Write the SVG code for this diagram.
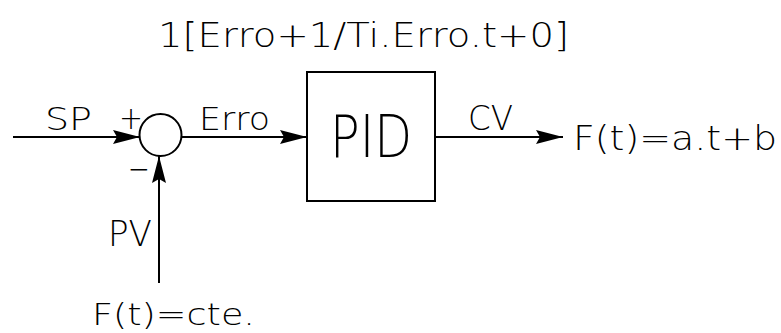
<svg xmlns="http://www.w3.org/2000/svg" width="781" height="333" viewBox="0 0 781 333">
<style>
text{font-family:"DejaVu Sans","Liberation Sans",Arial,sans-serif;font-weight:200;fill:#000;}
.ln{stroke:#000;stroke-width:2;fill:none;}
</style>
<defs>
<marker id="ah" markerUnits="userSpaceOnUse" markerWidth="28" markerHeight="16" refX="27" refY="8" orient="auto">
<path d="M0,1 L27,8 L0,15 L4,8 Z" fill="#000"/>
</marker>
</defs>
<rect width="781" height="333" fill="#fff"/>
<g id="connectors">
<line class="ln" x1="13" y1="137" x2="140" y2="137" marker-end="url(#ah)"/>
<line class="ln" x1="181" y1="137" x2="307" y2="137" marker-end="url(#ah)"/>
<line class="ln" x1="435" y1="137" x2="563" y2="137" marker-end="url(#ah)"/>
<line class="ln" x1="159" y1="283" x2="159" y2="156" marker-end="url(#ah)"/>
</g>
<g id="sum">
<circle class="ln" cx="160.5" cy="135" r="21"/>
<text x="119" y="129" font-size="32" textLength="24" lengthAdjust="spacingAndGlyphs">+</text>
<text x="128" y="180" font-size="32" textLength="22" lengthAdjust="spacingAndGlyphs">−</text>
</g>
<g id="pid">
<rect class="ln" x="307" y="72" width="128" height="129"/>
<text x="330" y="157" font-size="58" textLength="82" lengthAdjust="spacingAndGlyphs">PID</text>
</g>
<g id="labels">
<text x="158" y="47" font-size="34" textLength="411" lengthAdjust="spacingAndGlyphs">1[Erro+1/Ti.Erro.t+0]</text>
<text x="45" y="130" font-size="32" textLength="47" lengthAdjust="spacingAndGlyphs">SP</text>
<text x="199" y="130" font-size="32" textLength="71" lengthAdjust="spacingAndGlyphs">Erro</text>
<text x="468" y="130" font-size="34" textLength="45" lengthAdjust="spacingAndGlyphs">CV</text>
<text x="573" y="150" font-size="34" textLength="204" lengthAdjust="spacingAndGlyphs">F(t)=a.t+b</text>
<text x="108" y="246" font-size="36" textLength="44" lengthAdjust="spacingAndGlyphs">PV</text>
<text x="92" y="325" font-size="30" textLength="163" lengthAdjust="spacingAndGlyphs">F(t)=cte.</text>
</g>
</svg>
